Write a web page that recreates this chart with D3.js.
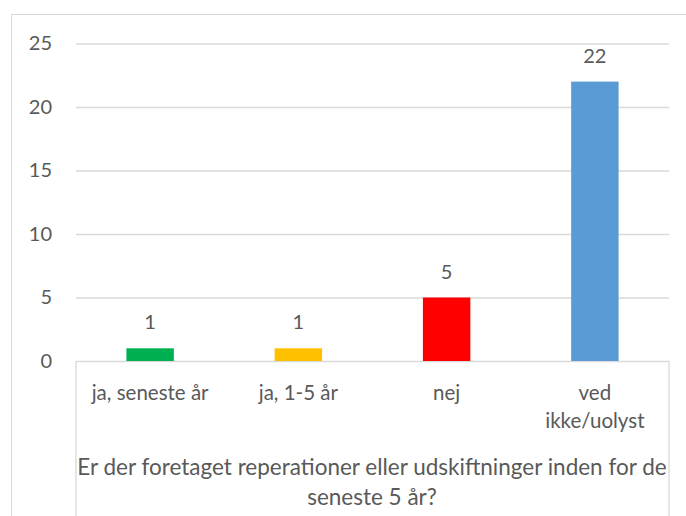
<!DOCTYPE html>
<meta charset="utf-8">
<style>
body { margin: 0; background: #fff; }
text { font-family: Lato, "Open Sans", sans-serif; fill: #595959; }
</style>
<body>
<script src="https://cdn.jsdelivr.net/npm/d3@7"></script>
<script>

var categories = ["ja, seneste år", "ja, 1-5 år", "nej", "ved\nikke/uolyst"];
var values = [1, 1, 5, 22];
var barColors = ["#00b050", "#ffc000", "#ff0000", "#5b9bd5"];
var yTicks = [0, 5, 10, 15, 20, 25];
var axisTitle = ["Er der foretaget reperationer eller udskiftninger inden for de", "seneste 5 år?"];

var width = 686, height = 516;
var plot = {left: 76, right: 669, top: 43.5, bottom: 361};

var svg = d3.select("body").append("svg")
    .attr("width", width)
    .attr("height", height);

// chart area border (only top/left visible in frame)
svg.append("rect")
    .attr("x", 11.5).attr("y", 14.5)
    .attr("width", 700).attr("height", 520)
    .attr("fill", "none")
    .attr("stroke", "#d9d9d9");

var x = d3.scaleBand()
    .domain(categories)
    .range([plot.left, plot.right])
    .paddingInner(0.68)
    .paddingOuter(0.34);

var y = d3.scaleLinear()
    .domain([0, 25])
    .range([plot.bottom, plot.top]);

// gridlines + tick labels
var yAxis = svg.append("g")
    .attr("transform", "translate(" + plot.left + ",0)")
    .call(d3.axisLeft(y)
      .tickValues(yTicks)
      .tickSize(-(plot.right - plot.left))
      .tickPadding(24));

yAxis.select(".domain").remove();
yAxis.selectAll(".tick line")
    .attr("stroke", "#d9d9d9")
    .attr("stroke-width", 1.3);
yAxis.selectAll(".tick text")
    .style("font-size", "20px")
    .style("font-family", "Lato, sans-serif")
    .attr("fill", "#595959");

// category box lines
svg.append("line")
    .attr("x1", plot.left).attr("x2", plot.left)
    .attr("y1", plot.bottom).attr("y2", height)
    .attr("stroke", "#d9d9d9").attr("stroke-width", 1.3);
svg.append("line")
    .attr("x1", plot.right).attr("x2", plot.right)
    .attr("y1", plot.bottom).attr("y2", height)
    .attr("stroke", "#d9d9d9").attr("stroke-width", 1.3);

// bars
svg.selectAll(".bar")
    .data(values)
  .enter().append("rect")
    .attr("class", "bar")
    .attr("x", function(d, i) { return x(categories[i]); })
    .attr("y", function(d) { return y(d); })
    .attr("width", x.bandwidth())
    .attr("height", function(d) { return y(0) - y(d); })
    .attr("fill", function(d, i) { return barColors[i]; });

// data labels
svg.selectAll(".lbl")
    .data(values)
  .enter().append("text")
    .attr("class", "lbl")
    .attr("x", function(d, i) { return x(categories[i]) + x.bandwidth() / 2; })
    .attr("y", function(d) { return y(d) - 19; })
    .attr("text-anchor", "middle")
    .style("font-size", "20px")
    .text(function(d) { return d; });

// category labels
categories.forEach(function(c, i) {
  var cx = x(c) + x.bandwidth() / 2;
  c.split("\n").forEach(function(line, j) {
    svg.append("text")
      .attr("x", cx)
      .attr("y", 400 + j * 28)
      .attr("text-anchor", "middle")
      .style("font-size", "20.5px")
      .text(line);
  });
});

// axis title
axisTitle.forEach(function(line, j) {
  svg.append("text")
    .attr("x", (plot.left + plot.right) / 2 - 0.5)
    .attr("y", 475 + j * 30)
    .attr("text-anchor", "middle")
    .style("font-size", "22.5px")
    .text(line);
});

</script>
</body>
